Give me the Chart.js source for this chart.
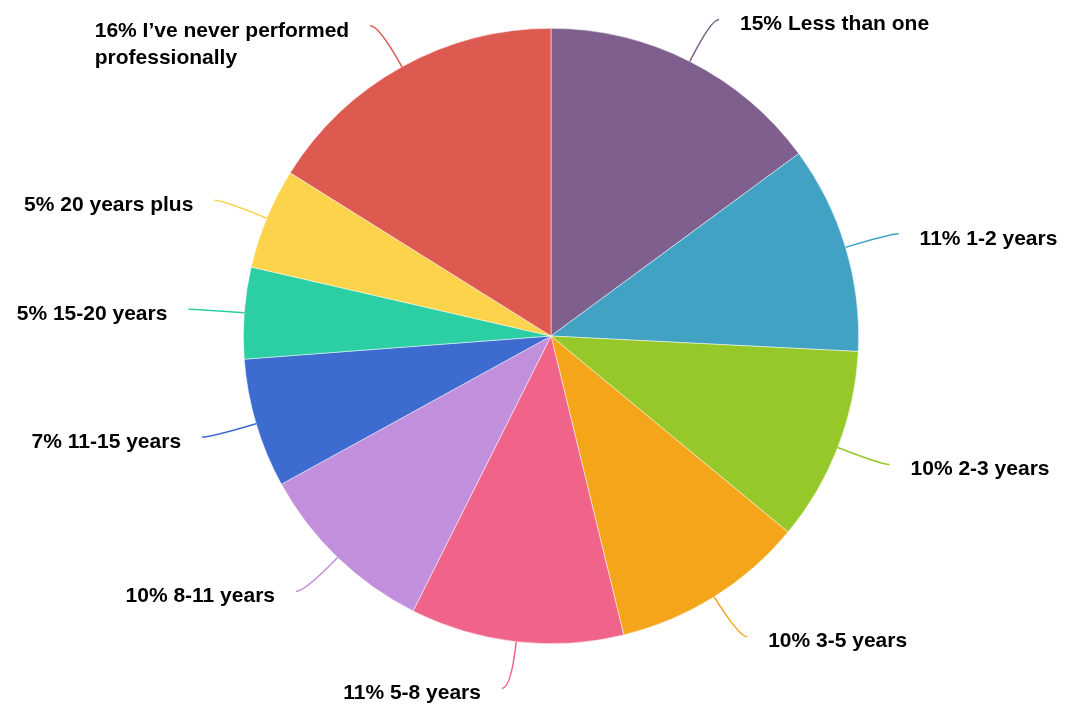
<!DOCTYPE html>
<html>
<head>
<meta charset="utf-8">
<script src="https://cdn.jsdelivr.net/npm/chart.js@4"></script>
<style>
  html, body { margin: 0; padding: 0; background: #fff; }
  #wrap { width: 1069px; height: 707px; position: relative; }
</style>
</head>
<body>
<div id="wrap"><canvas id="pie"></canvas></div>
<script>
// years performing professionally
const categories = [
  "Less than one", "1-2 years", "2-3 years", "3-5 years", "5-8 years",
  "8-11 years", "11-15 years", "15-20 years", "20 years plus",
  "I\u2019ve never performed professionally"
];
const shares = [14.9, 10.9, 10.2, 10.2, 11.2, 9.6, 6.8, 4.8, 5.3, 16.1];
const sliceColors = [
  "#7e5f8e", "#41a2c3", "#96c829", "#f4a51a", "#ef6488",
  "#c18fdb", "#3d6bcf", "#2bcfa3", "#fcd34a", "#dd5a51"
];

const FONT = "bold 21px 'Liberation Sans', Arial, sans-serif";

function wrapText(ctx, text, maxW) {
  const words = text.split(" ");
  const lines = [];
  let cur = "";
  words.forEach((w) => {
    const test = cur ? cur + " " + w : w;
    if (cur && ctx.measureText(test).width > maxW) {
      lines.push(cur);
      cur = w;
    } else {
      cur = test;
    }
  });
  if (cur) lines.push(cur);
  return lines;
}

// outside labels with curved leader lines
const outsideLabels = {
  id: "outsideLabels",
  afterDatasetsDraw(chart) {
    const ctx = chart.ctx;
    const meta = chart.getDatasetMeta(0);
    const total = shares.reduce((a, b) => a + b, 0);
    ctx.save();
    ctx.font = FONT;
    meta.data.forEach((arc, i) => {
      const { x, y, startAngle, endAngle, outerRadius } = arc.getProps(
        ["x", "y", "startAngle", "endAngle", "outerRadius"], true);
      const mid = (startAngle + endAngle) / 2;
      const cos = Math.cos(mid), sin = Math.sin(mid);
      const right = cos >= 0;
      const sx = x + cos * outerRadius, sy = y + sin * outerRadius;
      const ex0 = x + cos * (outerRadius + 47), ey = y + sin * (outerRadius + 47);
      const ex = ex0 + (right ? 8 : -9);

      ctx.strokeStyle = sliceColors[i];
      ctx.lineWidth = 1.5;
      ctx.beginPath();
      ctx.moveTo(sx, sy);
      ctx.quadraticCurveTo(ex0, ey, ex, ey);
      ctx.stroke();

      const pct = Math.round(shares[i] / total * 100);
      const lines = wrapText(ctx, pct + "% " + categories[i], 265);
      const blockW = Math.max(...lines.map((l) => ctx.measureText(l).width));
      const tx = right ? ex + 21 : ex - 21 - blockW;
      ctx.fillStyle = "#000";
      ctx.textAlign = "left";
      ctx.textBaseline = "middle";
      lines.forEach((l, k) => ctx.fillText(l, tx, ey + 5 + k * 27));
    });
    ctx.restore();
  }
};

new Chart(document.getElementById("pie"), {
  type: "pie",
  data: {
    labels: categories,
    datasets: [{
      data: shares,
      backgroundColor: sliceColors,
      borderColor: "rgba(255,255,255,0.7)",
      borderWidth: 0.7
    }]
  },
  options: {
    responsive: true,
    maintainAspectRatio: false,
    animation: false,
    layout: { padding: { top: 28, bottom: 63, left: 100, right: 67 } },
    plugins: {
      legend: { display: false },
      tooltip: { enabled: false }
    }
  },
  plugins: [outsideLabels]
});
</script>
</body>
</html>
